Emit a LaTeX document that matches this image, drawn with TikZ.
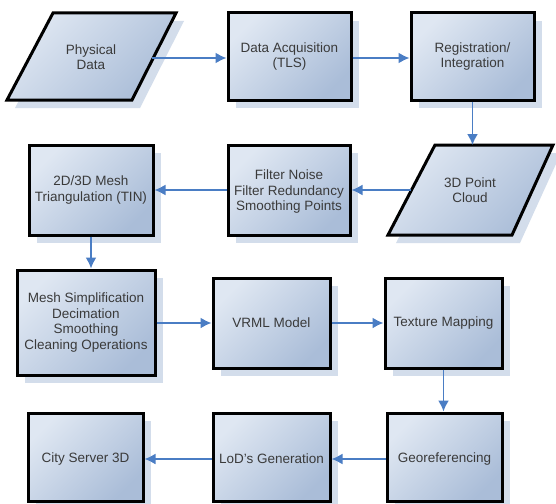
\documentclass[tikz,border=0pt]{standalone}
\usepackage{fontspec}
\setmainfont{Liberation Sans}
\usetikzlibrary{arrows.meta,shadows}
\definecolor{boxlight}{HTML}{DFE7F2}
\definecolor{boxdark}{HTML}{AABDD8}
\definecolor{shadowc}{HTML}{D3DDEB}
\definecolor{arrowc}{HTML}{4A7DC4}
\definecolor{textc}{HTML}{3A3A3A}
\tikzset{
  boxfill/.style={top color=boxlight, bottom color=boxdark, shading angle=45},
  procbox/.style={draw=black, line width=3pt, boxfill,
    drop shadow={shadow xshift=8pt, shadow yshift=-8pt, opacity=1, fill=shadowc},
    inner sep=0pt},
  lbl/.style={font=\fontsize{13.5}{15.5}\selectfont, text=textc, align=center},
  flow/.style={draw=arrowc, line width=1.8pt, -{Latex[length=11pt,width=11pt]}},
}
\begin{document}
\begin{tikzpicture}[x=1pt,y=-1pt]
\useasboundingbox (0,0) rectangle (556,503);
\fill[white] (0,0) rectangle (556,503);

% Parallelogram: Physical Data
\fill[shadowc] (61,21) -- (184,21) -- (140,108) -- (15,108) -- cycle;
\shade[boxfill] (53,13) -- (176,13) -- (132,100) -- (7,100) -- cycle;
\draw[line width=3pt, line join=miter] (53,13) -- (176,13) -- (132,100) -- (7,100) -- cycle;
\node[lbl] (pd) at (91,57) {Physical\\Data};
\coordinate (pdR) at (152,58);

% Parallelogram: 3D Point Cloud
\fill[shadowc] (443,153) -- (561,153) -- (520,243) -- (396,243) -- cycle;
\shade[boxfill] (435,145) -- (553,145) -- (512,235) -- (388,235) -- cycle;
\draw[line width=3pt, line join=miter] (435,145) -- (553,145) -- (512,235) -- (388,235) -- cycle;
\node[lbl] (pc) at (470,190) {3D Point\\Cloud};
\coordinate (pcT) at (472.5,145);
\coordinate (pcL) at (411,190);

% Boxes
\node[procbox, minimum width=123pt, minimum height=87pt] (da) at (289.5,56.5) {};
\node[lbl] at (da) {Data Acquisition\\(TLS)};
\node[procbox, minimum width=123pt, minimum height=87pt] (reg) at (472.5,56.5) {};
\node[lbl] at (reg) {Registration/\\Integration};

\node[procbox, minimum width=124pt, minimum height=90pt] (tin) at (91,190) {};
\node[lbl] at (tin) {2D/3D Mesh\\Triangulation (TIN)};
\node[procbox, minimum width=122pt, minimum height=90pt] (filt) at (289,190) {};
\node[lbl] at (filt.center) [yshift=-2pt] {Filter Noise\\Filter Redundancy\\Smoothing Points};

\node[procbox, minimum width=138pt, minimum height=105pt] (mesh) at (86,322.5) {};
\node[lbl] at (mesh) {Mesh Simplification\\Decimation\\Smoothing\\Cleaning Operations};
\node[procbox, minimum width=117pt, minimum height=90pt] (vrml) at (271.5,323) {};
\node[lbl] at (vrml) {VRML Model};
\node[procbox, minimum width=117pt, minimum height=90pt] (tex) at (443.5,323) {};
\node[lbl] at (tex) {Texture Mapping};

\node[procbox, minimum width=115pt, minimum height=88pt] (city) at (85.5,457) {};
\node[lbl] at (85.5,459) {City Server 3D};
\node[procbox, minimum width=117pt, minimum height=88pt] (lod) at (271.5,457) {};
\node[lbl] at (271.5,459) {LoD's Generation};
\node[procbox, minimum width=115pt, minimum height=88pt] (geo) at (444.5,457) {};
\node[lbl] at (444.5,459) {Georeferencing};

% Connectors
\draw[flow] (pdR) -- (pdR -| da.west);
\draw[flow] (da.east |- pdR) -- (reg.west |- pdR);
\draw[flow] (reg.south) -- (pcT);
\draw[flow] (pcL) -- (filt.east |- pcL);
\draw[flow] (filt.west) -- (tin.east);
\draw[flow] (tin.south) -- (tin.south |- mesh.north);
\draw[flow] (mesh.east |- vrml.west) -- (vrml.west);
\draw[flow] (vrml.east) -- (tex.west);
\draw[flow] (tex.south) -- (tex.south |- geo.north);
\draw[flow] (geo.west |- 0,459) -- (lod.east |- 0,459);
\draw[flow] (lod.west |- 0,459) -- (city.east |- 0,459);
\end{tikzpicture}
\end{document}
